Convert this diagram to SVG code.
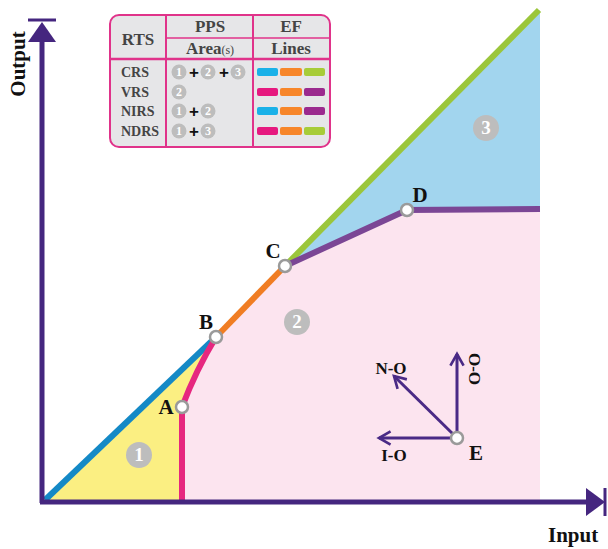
<svg xmlns="http://www.w3.org/2000/svg" width="608" height="549" viewBox="0 0 608 549">
<defs>
<style>
.lbl{font-family:"Liberation Serif","Times New Roman",serif;font-weight:bold;fill:#111;}
.tb{font-family:"Liberation Serif","Times New Roman",serif;font-weight:bold;fill:#444;}
.num{font-family:"Liberation Serif",serif;font-weight:bold;fill:#fff;text-anchor:middle;}
.pt{fill:#fff;stroke:#9a9a9a;stroke-width:2.5;}
.gc{fill:#bdbdbd;}
.dir{stroke:#4a2a86;stroke-width:3;fill:none;}
.plus{font-family:"Liberation Sans",sans-serif;font-weight:bold;font-size:17px;fill:#111;text-anchor:middle;}
</style>
<marker id="ah" viewBox="0 0 10 10" refX="8" refY="5" markerWidth="5.5" markerHeight="5.5" orient="auto" markerUnits="strokeWidth">
<path d="M1,1 L8,5 L1,9" fill="none" stroke="#4a2a86" stroke-width="1.6"/>
</marker>
</defs>
<rect width="608" height="549" fill="#fff"/>

<g id="regions">
<polygon id="area1" points="44,500 216,337 182,407 182,500" fill="#fbef82"/>
<path id="area2" d="M182,500 L182,407 Q196,370 216,337 L285,266 L407,210 L540,209 L540,500 Z" fill="#fce4ef"/>
<polygon id="area3" points="285,266 540,10 540,209 407,210" fill="#a2d5ee"/>
</g>

<g id="connectors">
<line x1="45" y1="500" x2="216" y2="337" stroke="#1489c6" stroke-width="6"/>
<path d="M182,502 L182,407 Q196,370 216,337" stroke="#e6277f" stroke-width="6" fill="none"/>
<line x1="216" y1="337" x2="285" y2="266" stroke="#f07d23" stroke-width="6"/>
<line x1="285" y1="266" x2="539" y2="10" stroke="#9bc63b" stroke-width="6"/>
<polyline points="285,266 407,210 540,209" stroke="#7b4695" stroke-width="6" fill="none"/>
<line class="dir" x1="457" y1="438" x2="457" y2="354" marker-end="url(#ah)"/>
<line class="dir" x1="457" y1="438" x2="394" y2="376" marker-end="url(#ah)"/>
<line class="dir" x1="457" y1="438" x2="379" y2="438" marker-end="url(#ah)"/>
</g>

<g id="axes">
<line x1="42" y1="503" x2="42" y2="38" stroke="#45267f" stroke-width="5"/>
<polygon points="42,22 28,42 56,42" fill="#45267f"/>
<line x1="28" y1="20" x2="56" y2="20" stroke="#45267f" stroke-width="3"/>
<line x1="40" y1="502" x2="590" y2="502" stroke="#45267f" stroke-width="5"/>
<polygon points="605,502 586,488 586,516" fill="#45267f"/>
<line x1="605" y1="488" x2="605" y2="516" stroke="#45267f" stroke-width="3"/>
<text class="lbl" font-size="21" transform="translate(25,64) rotate(-90)" text-anchor="middle">Output</text>
<text class="lbl" font-size="21" x="548" y="542">Input</text>
</g>

<g id="area-labels">
<circle class="gc" cx="139" cy="455" r="13"/><text class="num" font-size="19" x="139" y="461">1</text>
<circle class="gc" cx="297" cy="322" r="13"/><text class="num" font-size="19" x="297" y="328">2</text>
<circle class="gc" cx="486" cy="128" r="13"/><text class="num" font-size="19" x="486" y="134">3</text>
</g>

<g id="pointA"><circle class="pt" cx="182" cy="407" r="6"/><text class="lbl" font-size="21" x="166" y="414" text-anchor="middle">A</text></g>
<g id="pointB"><circle class="pt" cx="216" cy="337" r="6"/><text class="lbl" font-size="21" x="206" y="329" text-anchor="middle">B</text></g>
<g id="pointC"><circle class="pt" cx="285" cy="266" r="6"/><text class="lbl" font-size="21" x="273" y="258" text-anchor="middle">C</text></g>
<g id="pointD"><circle class="pt" cx="407" cy="210" r="6"/><text class="lbl" font-size="21" x="420" y="202" text-anchor="middle">D</text></g>
<g id="pointE"><circle class="pt" cx="457" cy="438" r="6"/><text class="lbl" font-size="21" x="476" y="460" text-anchor="middle">E</text></g>

<g id="dir-labels">
<text class="lbl" font-size="17" x="391" y="374" text-anchor="middle">N-O</text>
<text class="lbl" font-size="17" x="394" y="461" text-anchor="middle">I-O</text>
<text class="lbl" font-size="17" transform="translate(469,369) rotate(90)" text-anchor="middle">O-O</text>
</g>

<g id="legend">
<rect x="110" y="15" width="220" height="132" rx="9" fill="#e6e6e8" stroke="#e0338a" stroke-width="2"/>
<line x1="166" y1="15" x2="166" y2="147" stroke="#e0338a" stroke-width="2"/>
<line x1="253" y1="15" x2="253" y2="147" stroke="#e0338a" stroke-width="2"/>
<line x1="166" y1="38" x2="330" y2="38" stroke="#e0338a" stroke-width="1.5"/>
<line x1="110" y1="59" x2="330" y2="59" stroke="#e0338a" stroke-width="2.5"/>
<text class="tb" font-size="17" x="138" y="45" text-anchor="middle">RTS</text>
<text class="tb" font-size="17" x="210" y="32" text-anchor="middle">PPS</text>
<text class="tb" font-size="17" x="291" y="32" text-anchor="middle">EF</text>
<text class="tb" font-size="17" x="210" y="54" text-anchor="middle">Area<tspan font-size="12" font-weight="normal">(s)</tspan></text>
<text class="tb" font-size="17" x="291" y="54" text-anchor="middle">Lines</text>
<text class="tb" font-size="14" x="121" y="77">CRS</text>
<text class="tb" font-size="14" x="121" y="97">VRS</text>
<text class="tb" font-size="14" x="121" y="116">NIRS</text>
<text class="tb" font-size="14" x="121" y="136">NDRS</text>
<g font-size="12">
<circle class="gc" cx="179" cy="72" r="7.5"/><text class="num" x="179" y="76">1</text>
<text class="plus" x="194" y="78">+</text>
<circle class="gc" cx="208" cy="72" r="7.5"/><text class="num" x="208" y="76">2</text>
<text class="plus" x="224" y="78">+</text>
<circle class="gc" cx="238" cy="72" r="7.5"/><text class="num" x="238" y="76">3</text>
<circle class="gc" cx="179" cy="92" r="7.5"/><text class="num" x="179" y="96">2</text>
<circle class="gc" cx="179" cy="111" r="7.5"/><text class="num" x="179" y="115">1</text>
<text class="plus" x="194" y="117">+</text>
<circle class="gc" cx="208" cy="111" r="7.5"/><text class="num" x="208" y="115">2</text>
<circle class="gc" cx="179" cy="131" r="7.5"/><text class="num" x="179" y="135">1</text>
<text class="plus" x="194" y="137">+</text>
<circle class="gc" cx="208" cy="131" r="7.5"/><text class="num" x="208" y="135">3</text>
</g>
<g>
<rect x="257" y="68" width="21" height="8" rx="2" fill="#1ab1e8"/><rect x="280" y="68" width="22" height="8" rx="2" fill="#f7862a"/><rect x="304" y="68" width="21" height="8" rx="2" fill="#a7cc38"/>
<rect x="257" y="88" width="21" height="8" rx="2" fill="#e6197f"/><rect x="280" y="88" width="22" height="8" rx="2" fill="#f7862a"/><rect x="304" y="88" width="21" height="8" rx="2" fill="#9b2a8e"/>
<rect x="257" y="107" width="21" height="8" rx="2" fill="#1ab1e8"/><rect x="280" y="107" width="22" height="8" rx="2" fill="#f7862a"/><rect x="304" y="107" width="21" height="8" rx="2" fill="#9b2a8e"/>
<rect x="257" y="127" width="21" height="8" rx="2" fill="#e6197f"/><rect x="280" y="127" width="22" height="8" rx="2" fill="#f7862a"/><rect x="304" y="127" width="21" height="8" rx="2" fill="#a7cc38"/>
</g>
</g>
</svg>
